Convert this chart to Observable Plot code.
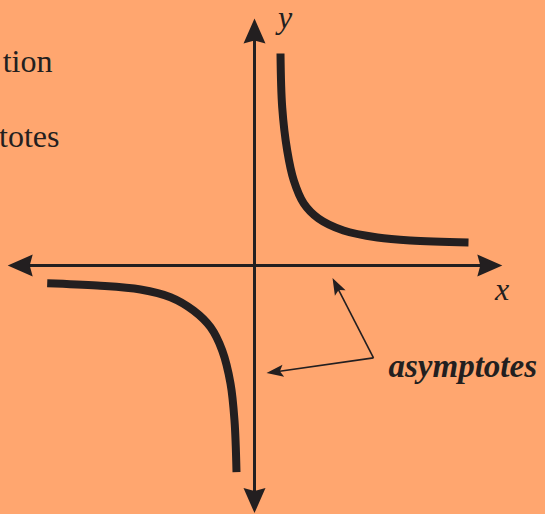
<!DOCTYPE html>
<html>
<head>
<meta charset="utf-8">
<script src="https://cdn.jsdelivr.net/npm/d3@7"></script>
<script src="https://cdn.jsdelivr.net/npm/@observablehq/plot@0.6"></script>
<style>
  html, body { margin: 0; padding: 0; background: #FFA66F; }
  #chart { width: 545px; height: 514px; overflow: hidden; }
</style>
</head>
<body>
<div id="chart"></div>
<script>
// Hyperbola branches (data units: axes cross at 0,0)
const upperBranchX = [1.3, 1.385, 1.635, 1.965, 2.465, 3.2, 4.45, 6.15, 7.8, 10.7];
const upperBranchY = [10.6, 7.915, 5.75, 4.25, 3.1, 2.35, 1.75, 1.4, 1.25, 1.15];
const lowerBranchX = [-10.365, -7.865, -5.7, -4.2, -3.05, -2.2, -1.615, -1.2, -1.0, -0.9];
const lowerBranchY = [-0.885, -1.0, -1.2, -1.585, -2.25, -3.085, -4.25, -5.9, -7.75, -10.335];

// Axis arrow tips
const axisTipX = [0, 0, -12.34, 12.39];
const axisTipY = [12.35, -12.38, 0, 0];

// Annotation pointer: common vertex and the two tips
const pointerVertex = [5.95, -4.62];
const pointerTipX = [3.9, 0.6];
const pointerTipY = [-0.62, -5.38];

// Text labels
const axisLabels = ["y", "x"];
const axisLabelX = [1.525, 12.375];
const axisLabelY = [11.88, -1.7];
const noteLabel = "asymptotes";
const noteX = 6.7, noteY = -5.55;
const cutTexts = ["tion", "totes"];
const cutTextX = [-10.1, -9.75];
const cutTextY = [9.7, 5.925];

const ink = "#231f20";
const serif = "Liberation Serif";

const upper = upperBranchX.map((x, i) => ({x, y: upperBranchY[i]}));
const lower = lowerBranchX.map((x, i) => ({x, y: lowerBranchY[i]}));
const deg = (dx, dy) => Math.atan2(dx, dy) * 180 / Math.PI;

const axisTips = axisTipX.map((x, i) => ({x, y: axisTipY[i], rot: deg(x, axisTipY[i])}));
// axis shafts end a little inside the arrowheads
const shaftBack = 1;
const vTop = axisTips[0].y - shaftBack, vBot = axisTips[1].y + shaftBack;
const hLeft = axisTips[2].x + shaftBack, hRight = axisTips[3].x - shaftBack;

const pointerTips = pointerTipX.map((x, i) => {
  const dx = x - pointerVertex[0], dy = pointerTipY[i] - pointerVertex[1];
  const len = Math.hypot(dx, dy), back = 0.4;
  return {x, y: pointerTipY[i], rot: deg(dx, dy),
          ex: x - dx / len * back, ey: pointerTipY[i] - dy / len * back};
});
const pointerSegs = pointerTips.flatMap((t, i) => [
  {x: pointerVertex[0], y: pointerVertex[1], k: i},
  {x: t.ex, y: t.ey, k: i}
]);

function headSymbol(len, half, notch) {
  return {
    draw(context) {
      context.moveTo(0, 0);
      context.lineTo(half, len);
      context.lineTo(0, len - notch);
      context.lineTo(-half, len);
      context.closePath();
    }
  };
}
const bigHead = headSymbol(25, 11, 3);
const smallHead = headSymbol(17, 6, 3.5);

const chart = Plot.plot({
  width: 545,
  height: 514,
  margin: 0,
  style: {background: "#FFA66F", overflow: "visible"},
  x: {domain: [-12.7, 14.55], axis: null},
  y: {domain: [-12.45, 13.25], axis: null},
  marks: [
    Plot.ruleX([0], {y1: vBot, y2: vTop, stroke: ink, strokeWidth: 3}),
    Plot.ruleY([0], {x1: hLeft, x2: hRight, stroke: ink, strokeWidth: 3}),
    Plot.dot(axisTips, {x: "x", y: "y", rotate: "rot", symbol: bigHead, fill: ink, stroke: "none", r: 10}),
    Plot.line(upper, {x: "x", y: "y", curve: "catmull-rom", stroke: ink, strokeWidth: 8, strokeLinecap: "butt"}),
    Plot.line(lower, {x: "x", y: "y", curve: "catmull-rom", stroke: ink, strokeWidth: 8, strokeLinecap: "butt"}),
    Plot.line(pointerSegs, {x: "x", y: "y", z: "k", stroke: ink, strokeWidth: 1.6, strokeLinecap: "butt"}),
    Plot.dot(pointerTips, {x: "x", y: "y", rotate: "rot", symbol: smallHead, fill: ink, stroke: "none", r: 6}),
    Plot.text(axisLabels, {x: (d, i) => axisLabelX[i], y: (d, i) => axisLabelY[i], text: d => d,
      fontFamily: serif, fontStyle: "italic", fontSize: 32, fill: ink, textAnchor: "middle", lineAnchor: "bottom"}),
    Plot.text([noteLabel], {x: () => noteX, y: () => noteY, text: d => d,
      fontFamily: serif, fontStyle: "italic", fontWeight: "bold", fontSize: 33, fill: ink, textAnchor: "start", lineAnchor: "bottom"}),
    Plot.text(cutTexts, {x: (d, i) => cutTextX[i], y: (d, i) => cutTextY[i], text: d => d,
      fontFamily: serif, fontSize: 32, fill: ink, textAnchor: "end", lineAnchor: "bottom"})
  ]
});
document.getElementById("chart").append(chart);
</script>
</body>
</html>
